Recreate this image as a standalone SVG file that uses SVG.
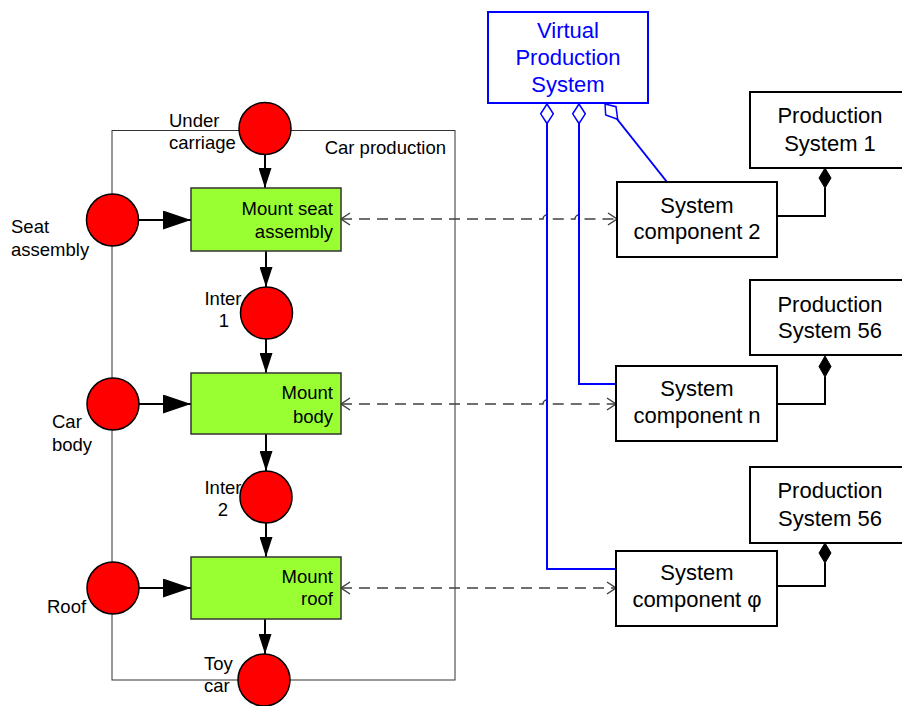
<svg xmlns="http://www.w3.org/2000/svg" width="902" height="706" viewBox="0 0 902 706">
<style>
text{font-family:"Liberation Sans",Arial,sans-serif;font-size:18.5px;fill:#000}
.r{font-size:22px}
.vt{font-size:22px;fill:#0000ff}
.c{text-anchor:middle}
.e{text-anchor:end}
.place{fill:#ff0000;stroke:#000;stroke-width:1.5}
.trans{fill:#99ff33;stroke:#333;stroke-width:1.5}
.box{fill:#fff;stroke:#000;stroke-width:2}
.vbox{fill:#fff;stroke:#0000ff;stroke-width:2}
.flow{fill:none;stroke:#000;stroke-width:2}
.dash{fill:none;stroke:#404040;stroke-width:1.5;stroke-dasharray:11 7}
.blue{fill:none;stroke:#0000ff;stroke-width:2}
.hd{fill:#fff;stroke:#0000ff;stroke-width:1.5}
.fd{fill:#000;stroke:#000;stroke-width:1}
.cont{fill:none;stroke:#333;stroke-width:1}
</style>
<defs>
<marker id="av" markerUnits="userSpaceOnUse" markerWidth="20" markerHeight="13" refX="20" refY="6.5" orient="auto"><path d="M0,0 L20,6.5 L0,13 z" fill="#000"/></marker>
<marker id="ah" markerUnits="userSpaceOnUse" markerWidth="28" markerHeight="19" refX="28" refY="9.5" orient="auto"><path d="M0,0 L28,9.5 L0,19 z" fill="#000"/></marker>
<marker id="ao" markerUnits="userSpaceOnUse" markerWidth="12" markerHeight="14" refX="10" refY="7" orient="auto-start-reverse"><path d="M1,1 L10,7 L1,13" fill="none" stroke="#404040" stroke-width="1.5" stroke-dasharray="none"/></marker>
</defs>
<rect width="902" height="706" fill="#fff"/>
<g id="container">
<rect class="cont" x="112" y="130.5" width="343" height="549.5"/>
<text class="e" x="446" y="154">Car production</text>
</g>
<g id="connectors">
<line class="flow" x1="265" y1="154" x2="265" y2="188" marker-end="url(#av)"/>
<line class="flow" x1="139" y1="220" x2="191" y2="220" marker-end="url(#ah)"/>
<line class="flow" x1="266" y1="251" x2="266" y2="287" marker-end="url(#av)"/>
<line class="flow" x1="266" y1="339" x2="266" y2="373" marker-end="url(#av)"/>
<line class="flow" x1="139" y1="404" x2="191" y2="404" marker-end="url(#ah)"/>
<line class="flow" x1="266" y1="434" x2="266" y2="471" marker-end="url(#av)"/>
<line class="flow" x1="266" y1="523" x2="266" y2="557" marker-end="url(#av)"/>
<line class="flow" x1="139" y1="588" x2="191" y2="588" marker-end="url(#ah)"/>
<line class="flow" x1="265" y1="619" x2="265" y2="654" marker-end="url(#av)"/>
<path class="dash" d="M341,219 L543,219 A4,4 0 0 1 551,219 L575,219 A4,4 0 0 1 583,219 L617,219" marker-start="url(#ao)" marker-end="url(#ao)"/>
<path class="dash" d="M341,404 L543,404 A4,4 0 0 1 551,404 L616,404" marker-start="url(#ao)" marker-end="url(#ao)"/>
<path class="dash" d="M341,588 L616,588" marker-start="url(#ao)" marker-end="url(#ao)"/>
<path class="blue" d="M547,123 L547,569 L616,569"/>
<polygon class="hd" points="547,104 553.3,113.8 547,123.5 540.7,113.8"/>
<path class="blue" d="M579,123 L579,384 L616,384"/>
<polygon class="hd" points="579,104 585.3,113.8 579,123.5 572.7,113.8"/>
<path class="blue" d="M617,119 L667,182"/>
<polygon class="hd" points="605,104 616,106.7 617.7,119.3 605.7,115"/>
<path class="flow" d="M825,188 L825,216 L777,216"/>
<polygon class="fd" points="825,168 831,178 825,188 819,178"/>
<path class="flow" d="M825,377 L825,404 L777,404"/>
<polygon class="fd" points="825,356 831,366.5 825,377 819,366.5"/>
<path class="flow" d="M825,563 L825,586 L777,586"/>
<polygon class="fd" points="825,543 831,553 825,563 819,553"/>
</g>
<g id="under-carriage">
<text x="169" y="127">Under</text>
<text x="169" y="149">carriage</text>
<circle class="place" cx="265" cy="128.5" r="26"/>
</g>
<g id="seat-assembly">
<circle class="place" cx="112.5" cy="220" r="26"/>
<text x="11" y="233">Seat</text>
<text x="11" y="256">assembly</text>
</g>
<g id="mount-seat">
<rect class="trans" x="191" y="188" width="150" height="63"/>
<text class="e" x="333" y="215">Mount seat</text>
<text class="e" x="333" y="238">assembly</text>
</g>
<g id="inter-1">
<text class="c" x="223" y="305">Inter</text>
<text class="c" x="224" y="327">1</text>
<circle class="place" cx="266.5" cy="313" r="26"/>
</g>
<g id="car-body">
<circle class="place" cx="113" cy="404" r="26"/>
<text x="52" y="428">Car</text>
<text x="52" y="451">body</text>
</g>
<g id="mount-body">
<rect class="trans" x="191" y="373" width="150" height="61"/>
<text class="e" x="333" y="399">Mount</text>
<text class="e" x="333" y="423">body</text>
</g>
<g id="inter-2">
<text class="c" x="223" y="494">Inter</text>
<text class="c" x="223" y="516">2</text>
<circle class="place" cx="266" cy="497" r="26"/>
</g>
<g id="roof">
<circle class="place" cx="113" cy="588" r="26"/>
<text x="47" y="613">Roof</text>
</g>
<g id="mount-roof">
<rect class="trans" x="191" y="557" width="150" height="62"/>
<text class="e" x="333" y="583">Mount</text>
<text class="e" x="333" y="605">roof</text>
</g>
<g id="toy-car">
<text x="204" y="670">Toy</text>
<text x="204" y="692">car</text>
<circle class="place" cx="264" cy="680" r="26"/>
</g>
<g id="virtual-production-system">
<rect class="vbox" x="488" y="12" width="160" height="91"/>
<text class="vt c" x="568" y="38">Virtual</text>
<text class="vt c" x="568" y="65">Production</text>
<text class="vt c" x="568" y="92">System</text>
</g>
<g id="production-system-1">
<rect class="box" x="750" y="92" width="162" height="76"/>
<text class="r c" x="830" y="123">Production</text>
<text class="r c" x="830" y="151">System 1</text>
</g>
<g id="system-component-2">
<rect class="box" x="617" y="182" width="160" height="75"/>
<text class="r c" x="697" y="213">System</text>
<text class="r c" x="697" y="239">component 2</text>
</g>
<g id="production-system-56-a">
<rect class="box" x="750" y="280" width="162" height="75"/>
<text class="r c" x="830" y="312">Production</text>
<text class="r c" x="830" y="338">System 56</text>
</g>
<g id="system-component-n">
<rect class="box" x="616" y="366" width="161" height="75"/>
<text class="r c" x="697" y="396">System</text>
<text class="r c" x="697" y="423">component n</text>
</g>
<g id="production-system-56-b">
<rect class="box" x="750" y="467" width="162" height="76"/>
<text class="r c" x="830" y="498">Production</text>
<text class="r c" x="830" y="526">System 56</text>
</g>
<g id="system-component-phi">
<rect class="box" x="616" y="551" width="161" height="75"/>
<text class="r c" x="697" y="580">System</text>
<text class="r c" x="697" y="607">component φ</text>
</g>
</svg>
